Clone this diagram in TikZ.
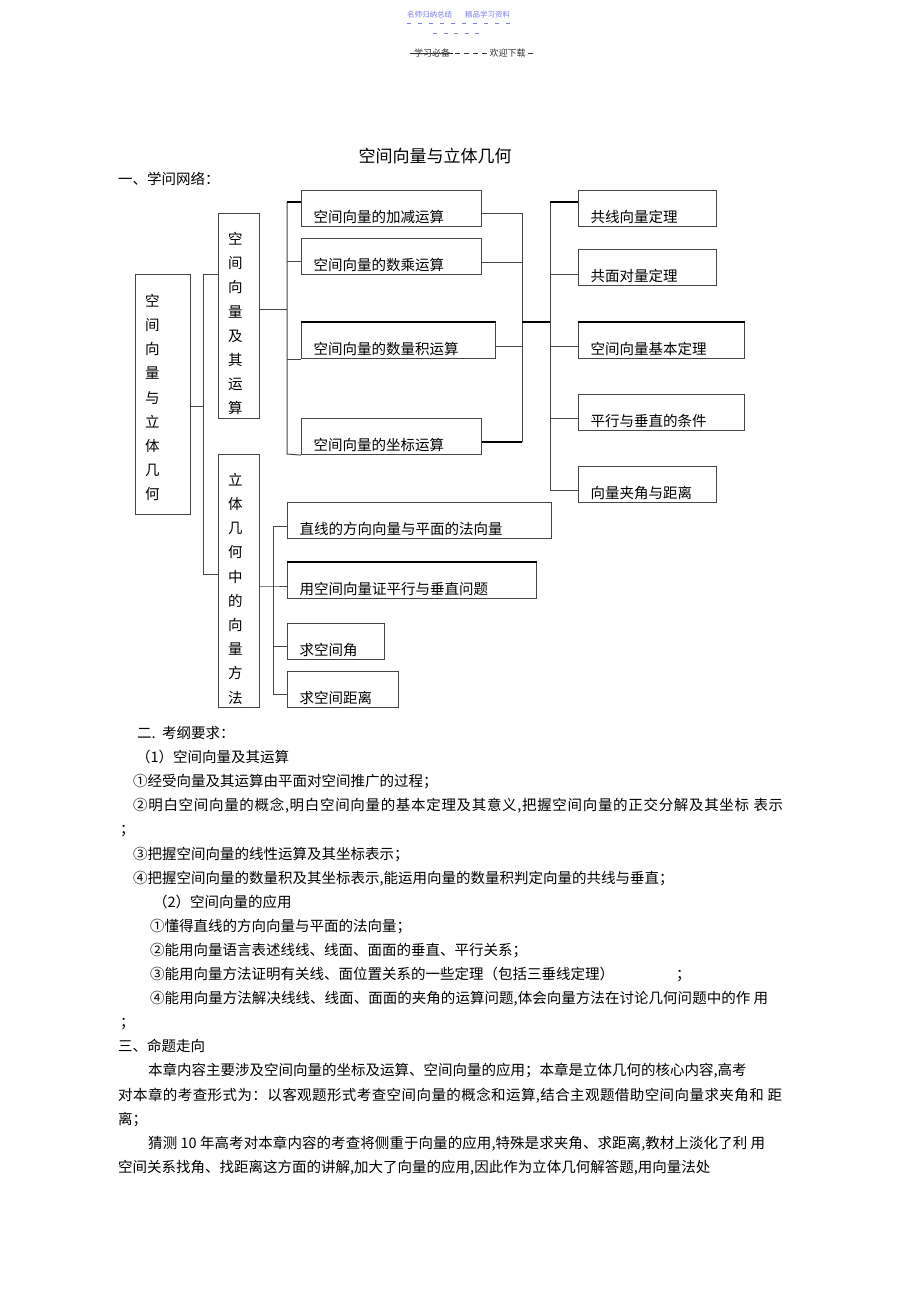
\documentclass[tikz,border=0pt]{standalone}
\usepackage{fontspec}
\setmainfont{Noto Sans CJK SC}
\usepackage{tikz}
\usetikzlibrary{positioning}
\definecolor{linegray}{RGB}{70,70,70}
\definecolor{headblue}{RGB}{125,125,235}
% stretchable glue between CJK characters, used by the justified lines
\newXeTeXintercharclass\cjkcls
\makeatletter
\count@="2460
\loop\ifnum\count@<"2500 \XeTeXcharclass\count@=\cjkcls \advance\count@ by 1 \repeat
\count@="3000
\loop\ifnum\count@<"A000 \XeTeXcharclass\count@=\cjkcls \advance\count@ by 1 \repeat
\count@="FF00
\loop\ifnum\count@<"FF60 \XeTeXcharclass\count@=\cjkcls \advance\count@ by 1 \repeat
\makeatother
\XeTeXinterchartokenstate=1
\XeTeXinterchartoks\cjkcls\cjkcls={\hskip 0pt plus 1pt\relax}
\XeTeXinterchartoks\cjkcls 0={\hskip 0pt plus 1pt\relax}
\XeTeXinterchartoks 0\cjkcls={\hskip 0pt plus 1pt\relax}
\newcommand{\boxfont}{\fontsize{14.5pt}{17pt}\selectfont}
\newcommand{\stackfont}{\fontsize{14.5pt}{24.2pt}\selectfont}
\tikzstyle{box}=[draw=linegray,line width=1.1pt,rectangle,anchor=north west,inner xsep=12pt,inner ysep=0pt,minimum height=36pt,text height=27pt,text depth=0pt,align=left,font=\boxfont]
\tikzstyle{stack}=[draw=linegray,line width=1.1pt,rectangle,anchor=north west,inner sep=0pt]
\tikzstyle{stacktext}=[anchor=west,inner sep=0pt,align=left,font=\stackfont]
\tikzstyle{link}=[draw=linegray,line width=1pt]
\tikzstyle{boldlink}=[draw=black,line width=2pt]
\tikzstyle{txt}=[anchor=base west,inner sep=0pt,font=\boxfont]
\newcommand{\newBox}[4]{\node[box,text width=#4](#1) at #3 {#2};}
\newcommand{\newStack}[6]{\node[stack,minimum width=#4,minimum height=#5](#1) at #3 {};
  \node[stacktext](#1t) at #6 {#2};}
\newcommand{\newRow}[4]{\node[txt](#1) at (#2,#3) {#4};}

\begin{document}
\begin{tikzpicture}[x=1pt,y=-1pt]
      \fill[white] (0,0) rectangle (920,1304);
      \useasboundingbox (0,0) rectangle (920,1304);
      % page header
      \node[font=\fontsize{7.5pt}{9pt}\selectfont,text=headblue,inner sep=0pt] (hd1) at (429.5,15) {名师归纳总结};
      \node[font=\fontsize{7.5pt}{9pt}\selectfont,text=headblue,inner sep=0pt] (hd2) at (487.5,15) {精品学习资料};
      \draw[headblue,line width=0.6pt,dash pattern=on 4pt off 7pt] (407,23) -- (513,23);
      \draw[headblue,line width=0.6pt,dash pattern=on 4pt off 6.5pt] (433,33) -- (483,33);
      \node[font=\fontsize{9pt}{11pt}\selectfont,text=black!80,inner sep=0pt] (hd3) at (432,53) {学习必备};
      \node[font=\fontsize{9pt}{11pt}\selectfont,text=black!80,inner sep=0pt] (hd4) at (507.5,53) {欢迎下载};
      \draw[black!80,line width=0.7pt] (410,53) -- (453,53);
      \draw[black!80,line width=0.7pt,dash pattern=on 5pt off 4pt] (455,53) -- (488,53);
      \draw[black!80,line width=0.7pt] (528,53) -- (533,53);
      % title
      \node[font=\fontsize{17pt}{20pt}\selectfont,anchor=base,inner sep=0pt] (title) at (435,162.5) {空间向量与立体几何};
      \newRow{sec1}{118}{184.5}{一、学问网络：}
      % tree
      \newStack{root}{空\\间\\向\\量\\与\\立\\体\\几\\何}{(135,274)}{55pt}{240pt}{(145,397.5)}
      \newStack{ops}{空\\间\\向\\量\\及\\其\\运\\算}{(218,213)}{41pt}{205pt}{(228,323.7)}
      \newStack{geo}{立\\体\\几\\何\\中\\的\\向\\量\\方\\法}{(218,454)}{41pt}{253pt}{(228,588.7)}
      \newBox{add}{空间向量的加减运算}{(301,190)}{156pt}
      \newBox{mul}{空间向量的数乘运算}{(301,238)}{156pt}
      \newBox{dot}{空间向量的数量积运算}{(301,322)}{170pt}
      \newBox{crd}{空间向量的坐标运算}{(301,418)}{156pt}
      \newBox{colin}{共线向量定理}{(578,190)}{114pt}
      \newBox{cop}{共面对量定理}{(578,249)}{114pt}
      \newBox{basic}{空间向量基本定理}{(578,322)}{142pt}
      \newBox{para}{平行与垂直的条件}{(578,394)}{142pt}
      \newBox{ang}{向量夹角与距离}{(578,466)}{114pt}
      \newBox{dir}{直线的方向向量与平面的法向量}{(287,502)}{240pt}
      \newBox{prf}{用空间向量证平行与垂直问题}{(287,562)}{225pt}
      \newBox{angle}{求空间角}{(287,623)}{73pt}
      \newBox{dist}{求空间距离}{(287,671)}{87pt}
      \draw[boldlink] (dot.north west) -- (dot.north east);
      \draw[boldlink] (basic.north west) -- (basic.north east);
      \draw[boldlink] (prf.north west) -- (prf.north east);
      % root to its two parts
      \coordinate (r0) at (203,406);
      \coordinate (r1) at (203,274);
      \coordinate (r2) at (203,574);
      \draw[link] (root.east|-r0) -- (r0);
      \draw[link] (ops.west|-r1) -- (r1) -- (r2) -- (geo.west|-r2);
      % operations
      \coordinate (o0) at (287,309);
      \coordinate (o1) at (287,202);
      \coordinate (o2) at (287,454);
      \coordinate (o3) at (287,261);
      \draw[link] (ops.east|-o0) -- (o0);
      \draw[link] (o1) -- (o2) -- (crd.south west);
      \draw[boldlink] (o1) -- (add.west|-o1);
      \draw[link] (o3) -- (mul.west|-o3);
      \draw[link] (o1|-dot.south) -- (dot.south west);
      % operations to theorems
      \coordinate (m0) at (522,322);
      \coordinate (m1) at (522,213);
      \coordinate (m2) at (522,442);
      \coordinate (m3) at (522,262);
      \coordinate (m4) at (522,346);
      \draw[link] (add.east|-m1) -- (m1) -- (m2);
      \draw[boldlink] (crd.east|-m2) -- (m2);
      \draw[link] (mul.east|-m3) -- (m3);
      \draw[link] (dot.east|-m4) -- (m4);
      \coordinate (t0) at (550,322);
      \coordinate (t1) at (550,202);
      \coordinate (t2) at (550,490);
      \coordinate (t3) at (550,274);
      \coordinate (t4) at (550,346);
      \coordinate (t5) at (550,418);
      \draw[boldlink] (m0) -- (t0);
      \draw[link] (t1) -- (t2) -- (ang.west|-t2);
      \draw[boldlink] (t1) -- (colin.west|-t1);
      \draw[link] (t3) -- (cop.west|-t3);
      \draw[link] (t4) -- (basic.west|-t4);
      \draw[link] (t5) -- (para.west|-t5);
      % methods
      \coordinate (g0) at (273,586);
      \coordinate (g1) at (273,526);
      \coordinate (g2) at (273,694);
      \coordinate (g3) at (273,646);
      \draw[link] (geo.east|-g0) -- (g0) -- (prf.west|-g0);
      \draw[link] (g1) -- (g2);
      \draw[link] (g1) -- (dir.west|-g1);
      \draw[link] (g3) -- (angle.west|-g3);
      \draw[link] (g2) -- (dist.west|-g2);
      % text below
      \newRow{r0}{137}{738.5}{二.\ \ 考纲要求：}
      \newRow{r1}{136}{762.6}{（1）空间向量及其运算}
      \newRow{r2}{133}{786.7}{①经受向量及其运算由平面对空间推广的过程；}
      \newRow{r3}{133}{810.8}{\makebox[650pt][s]{②明白空间向量的概念,明白空间向量的基本定理及其意义,把握空间向量的正交分解及其坐标 表示}}
      \newRow{r4}{120}{834.9}{；}
      \newRow{r5}{133}{859.0}{③把握空间向量的线性运算及其坐标表示；}
      \newRow{r6}{133}{883.1}{④把握空间向量的数量积及其坐标表示,能运用向量的数量积判定向量的共线与垂直；}
      \newRow{r7}{153}{907.2}{（2）空间向量的应用}
      \newRow{r8}{150}{931.3}{①懂得直线的方向向量与平面的法向量；}
      \newRow{r9}{150}{955.4}{②能用向量语言表述线线、线面、面面的垂直、平行关系；}
      \newRow{r10}{150}{979.5}{③能用向量方法证明有关线、面位置关系的一些定理（包括三垂线定理）\hspace{62pt}；}
      \newRow{r11}{150}{1003.6}{\makebox[618pt][s]{④能用向量方法解决线线、线面、面面的夹角的运算问题,体会向量方法在讨论几何问题中的作 用}}
      \newRow{r12}{120}{1027.7}{；}
      \newRow{r13}{118}{1051.8}{三、命题走向}
      \newRow{r14}{148}{1075.9}{本章内容主要涉及空间向量的坐标及运算、空间向量的应用；本章是立体几何的核心内容,高考}
      \newRow{r15}{118}{1100.0}{\makebox[664pt][s]{对本章的考查形式为：以客观题形式考查空间向量的概念和运算,结合主观题借助空间向量求夹角和 距}}
      \newRow{r16}{118}{1124.1}{离；}
      \newRow{r17}{148}{1148.2}{\makebox[617pt][s]{猜测 10 年高考对本章内容的考查将侧重于向量的应用,特殊是求夹角、求距离,教材上淡化了利 用}}
      \newRow{r18}{118}{1172.3}{空间关系找角、找距离这方面的讲解,加大了向量的应用,因此作为立体几何解答题,用向量法处}
\end{tikzpicture}
\end{document}
